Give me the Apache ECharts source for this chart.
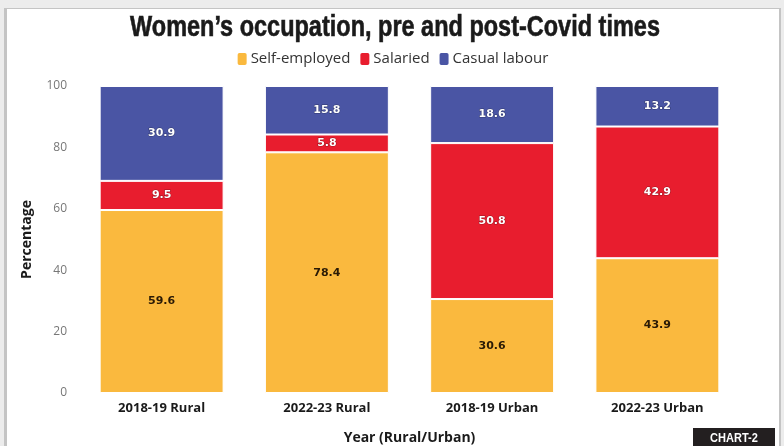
<!DOCTYPE html>
<html><head><meta charset="utf-8">
<script src="https://cdn.jsdelivr.net/npm/echarts@6/dist/echarts.min.js"></script>
<style>html,body{margin:0;padding:0;background:#fff}#c{width:784px;height:446px}</style>
</head><body><div id="c"></div>
<script>
const categories = ['2018-19 Rural', '2022-23 Rural', '2018-19 Urban', '2022-23 Urban'];
const selfEmployed = [59.6, 78.4, 30.6, 43.9];
const salaried = [9.5, 5.8, 50.8, 42.9];
const casualLabour = [30.9, 15.8, 18.6, 13.2];
const yTicks = [0, 20, 40, 60, 80, 100];
const titleText = 'Women\u2019s occupation, pre and post-Covid times';

const chart = echarts.init(document.getElementById('c'), null, {renderer: 'canvas'});
const labelCommon = {show: true, position: 'inside', fontSize: 11, fontWeight: 'bold', fontFamily: 'Verdana, DejaVu Sans, sans-serif'};
const mk = (name, data, color, txt) => ({
  name, type: 'bar', stack: 'a', data, barWidth: '75%',
  itemStyle: {color, borderColor: '#fff', borderWidth: 1},
  label: Object.assign({}, labelCommon, {color: txt, textBorderColor: txt === '#fff' ? 'rgba(0,0,0,0.35)' : 'transparent', textBorderWidth: txt === '#fff' ? 1 : 0}),
  emphasis: {disabled: true}
});
chart.setOption({
  animation: false,
  backgroundColor: '#fff',
  graphic: [
    {type: 'rect', shape: {x: 0, y: 0, width: 784, height: 446}, style: {fill: '#ececec'}, z: -10, silent: true},
    {type: 'rect', shape: {x: 4, y: 8, width: 777, height: 438}, style: {fill: '#c4c4c4'}, z: -9, silent: true},
    {type: 'rect', shape: {x: 7, y: 9, width: 772, height: 437}, style: {fill: '#ffffff'}, z: -8, silent: true},
    {type: 'rect', shape: {x: 693, y: 428, width: 82, height: 18}, style: {fill: '#231f20'}, z: 10, silent: true},
    {type: 'text', x: 734, y: 438, scaleX: 0.85, style: {text: 'CHART-2', fill: '#fff', align: 'center', verticalAlign: 'middle', font: 'bold 13px "Liberation Sans", sans-serif'}, z: 11, silent: true},
    {type: 'text', x: 395, y: 28, scaleX: 0.81, style: {text: titleText, fill: '#1a1a1a', stroke: '#1a1a1a', lineWidth: 0.6, align: 'center', verticalAlign: 'middle', font: 'bold 29px "Liberation Sans", sans-serif'}, z: 11, silent: true}
  ],
  legend: {
    top: 46, left: 'center', itemWidth: 11, itemHeight: 14, itemGap: 8,
    icon: 'roundRect',
    textStyle: {fontSize: 15, color: '#333', fontFamily: '"Open Sans", sans-serif', padding: [0, 0, 0, -2]},
    data: ['Self-employed', 'Salaried', 'Casual labour']
  },
  grid: {left: 79, right: 44, top: 86, bottom: 53, containLabel: false, outerBoundsMode: 'none'},
  xAxis: {
    type: 'category', data: categories,
    name: 'Year (Rural/Urban)', nameLocation: 'middle', nameGap: 38,
    nameTextStyle: {fontSize: 14, fontWeight: 'bold', color: '#1a1a1a', fontFamily: '"Open Sans", sans-serif'},
    axisLine: {show: false}, axisTick: {show: false},
    axisLabel: {fontSize: 13, fontWeight: 'bold', color: '#1a1a1a', margin: 9, fontFamily: '"Open Sans", sans-serif'}
  },
  yAxis: {
    type: 'value', min: 0, max: 100, interval: 20,
    name: 'Percentage', nameLocation: 'middle', nameGap: 45,
    nameTextStyle: {fontSize: 14, fontWeight: 'bold', color: '#1a1a1a', fontFamily: '"Open Sans", sans-serif'},
    splitLine: {show: false}, axisLine: {show: false}, axisTick: {show: false},
    axisLabel: {fontSize: 12, color: '#777', margin: 12, fontFamily: '"Open Sans", sans-serif',
      formatter: v => yTicks.includes(v) ? String(v) : ''}
  },
  series: [
    mk('Self-employed', selfEmployed, '#fab93e', '#2a1a05'),
    mk('Salaried', salaried, '#e81d2e', '#fff'),
    mk('Casual labour', casualLabour, '#4a55a4', '#fff')
  ]
});
</script></body></html>
